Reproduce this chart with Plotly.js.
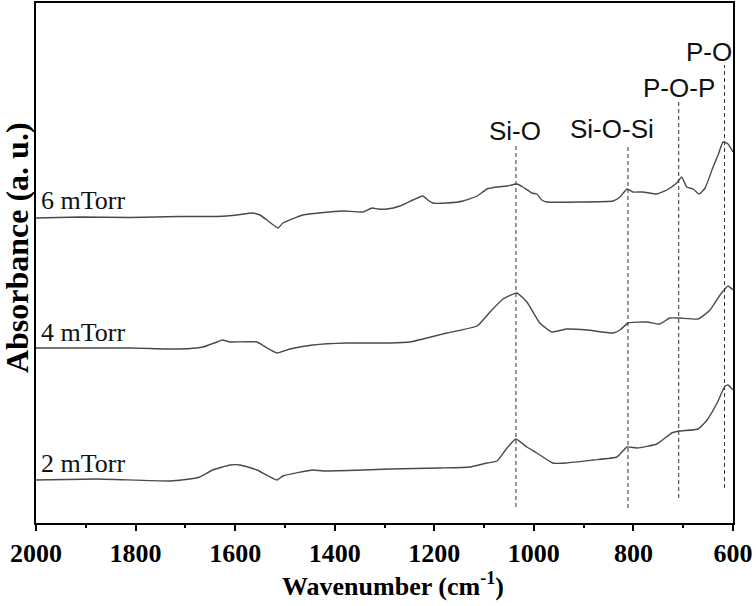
<!DOCTYPE html>
<html>
<head>
<meta charset="utf-8">
<script src="https://cdn.plot.ly/plotly-3.0.1.min.js"></script>
<style>
  html, body { margin: 0; padding: 0; background: #fff; }
  #chart { width: 756px; height: 606px; }
</style>
</head>
<body>
<div id="chart"></div>
<script>
// FTIR absorbance spectra, offset vertically by deposition pressure
const wn6 = [2000, 1912, 1811, 1711, 1636, 1596, 1566, 1550, 1514, 1504, 1464, 1410, 1383, 1343, 1325, 1313,
  1295, 1269, 1243, 1223, 1213, 1203, 1175, 1142, 1114, 1094, 1074, 1054, 1034, 1022, 1004, 994, 984, 974,
  907, 841, 827, 813, 801, 781, 753, 733, 713, 703, 693, 680, 668, 656, 640, 630, 620, 610, 600];
const abs6 = [3.05, 3.06, 3.055, 3.065, 3.065, 3.08, 3.10, 3.08, 2.95, 3.00, 3.08, 3.11, 3.12, 3.11, 3.15, 3.14,
  3.14, 3.17, 3.23, 3.27, 3.23, 3.20, 3.20, 3.22, 3.27, 3.34, 3.36, 3.37, 3.39, 3.36, 3.30, 3.29, 3.23, 3.21,
  3.21, 3.22, 3.26, 3.34, 3.31, 3.31, 3.29, 3.33, 3.40, 3.46, 3.36, 3.34, 3.29, 3.35, 3.56, 3.68, 3.81, 3.79, 3.71];

const wn4 = [2000, 1811, 1717, 1677, 1665, 1636, 1626, 1610, 1556, 1536, 1516, 1490, 1444, 1375, 1289, 1249,
  1175, 1114, 1088, 1062, 1034, 1014, 988, 964, 934, 893, 841, 827, 811, 773, 747, 727, 707, 670, 646, 626, 610, 600];
const abs4 = [1.75, 1.75, 1.74, 1.75, 1.76, 1.81, 1.83, 1.81, 1.81, 1.75, 1.70, 1.74, 1.78, 1.80, 1.80, 1.81,
  1.90, 1.97, 2.11, 2.24, 2.30, 2.21, 2.00, 1.91, 1.94, 1.93, 1.90, 1.93, 2.00, 2.01, 1.99, 2.05, 2.05, 2.04, 2.13, 2.28, 2.37, 2.33];

const wn2 = [2000, 1877, 1731, 1691, 1671, 1645, 1610, 1590, 1556, 1516, 1504, 1444, 1424, 1343, 1289, 1189,
  1128, 1094, 1074, 1054, 1036, 1014, 994, 962, 934, 881, 833, 813, 793, 753, 723, 707, 670, 652, 632, 616, 610, 600];
const abs2 = [0.43, 0.44, 0.42, 0.44, 0.46, 0.53, 0.58, 0.58, 0.53, 0.43, 0.47, 0.53, 0.52, 0.53, 0.54, 0.55,
  0.56, 0.60, 0.62, 0.75, 0.84, 0.76, 0.70, 0.60, 0.60, 0.63, 0.66, 0.76, 0.75, 0.79, 0.90, 0.92, 0.94, 1.03, 1.20, 1.37, 1.38, 1.33];

// Band assignments: position, dashed-line extent, label placement
const bandNames = ['Si-O', 'Si-O-Si', 'P-O-P', 'P-O'];
const bandPos = [1036, 811, 709, 617];
const bandLow = [0.16, 0.15, 0.25, 0.35];
const bandHigh = [3.77, 3.76, 4.21, 4.58];
const bandLabelX = [1038, 843, 709, 648];
const bandLabelY = [3.92, 3.94, 4.35, 4.71];

const sampleNames = ['6 mTorr', '4 mTorr', '2 mTorr'];
const sampleLabelY = [3.23, 1.91, 0.60];

const xTicks = [2000, 1800, 1600, 1400, 1200, 1000, 800, 600];

const lineColor = '#4a4a4a';
const spectra = [[wn6, abs6], [wn4, abs4], [wn2, abs2]];

const traces = spectra.map(([x, y], i) => ({
  x: x, y: y, type: 'scatter', mode: 'lines', name: sampleNames[i],
  line: { color: lineColor, width: 1.4, shape: 'spline', smoothing: 0.4 }, hoverinfo: 'skip'
}));

bandPos.forEach((p, i) => {
  traces.push({
    x: [p, p], y: [bandLow[i], bandHigh[i]], type: 'scatter', mode: 'lines',
    line: { color: '#333', width: 1, dash: '4px,3px' }, hoverinfo: 'skip'
  });
});

const serif = 'Liberation Serif, Times New Roman, serif';
const annotations = [];
bandNames.forEach((t, i) => {
  annotations.push({
    x: bandLabelX[i], y: bandLabelY[i], xref: 'x', yref: 'y', text: t, showarrow: false,
    xanchor: 'center', yanchor: 'middle',
    font: { family: 'Liberation Sans, Arial, sans-serif', size: 26, color: '#111' }
  });
});
sampleNames.forEach((t, i) => {
  annotations.push({
    x: 1994, y: sampleLabelY[i], xref: 'x', yref: 'y', text: t, showarrow: false,
    xanchor: 'left', yanchor: 'middle',
    font: { family: serif, size: 26, color: '#111' }
  });
});
// axis titles
annotations.push({
  x: -0.027, y: 0.529, xref: 'paper', yref: 'paper', text: 'Absorbance (a. u.)',
  showarrow: false, textangle: -90, xanchor: 'center', yanchor: 'middle',
  font: { family: serif, size: 32, weight: 'bold', color: '#000' }
});
annotations.push({
  x: 0.512, y: -0.118, xref: 'paper', yref: 'paper', text: 'Wavenumber (cm<sup>-1</sup>)',
  showarrow: false, xanchor: 'center', yanchor: 'middle',
  font: { family: serif, size: 26, weight: 'bold', color: '#000' }
});

const layout = {
  width: 756, height: 606,
  margin: { l: 36, r: 23, t: 3, b: 83 },
  paper_bgcolor: '#fff', plot_bgcolor: '#fff',
  showlegend: false,
  font: { family: serif, color: '#000' },
  xaxis: {
    range: [2000, 600], autorange: false,
    tickvals: xTicks,
    ticks: 'outside', ticklen: 6, tickwidth: 2, tickcolor: '#000',
    minor: { dtick: 100, ticks: 'outside', ticklen: 3, tickwidth: 2, tickcolor: '#000' },
    tickfont: { family: serif, size: 26, weight: 'bold', color: '#000' },
    showgrid: false, zeroline: false,
    showline: true, linecolor: '#000', linewidth: 2, mirror: true
  },
  yaxis: {
    range: [0, 5.2], autorange: false,
    showticklabels: false, ticks: '',
    showgrid: false, zeroline: false,
    showline: true, linecolor: '#000', linewidth: 2, mirror: true
  },
  annotations: annotations
};

Plotly.newPlot('chart', traces, layout, { displayModeBar: false, staticPlot: true });
</script>
</body>
</html>
